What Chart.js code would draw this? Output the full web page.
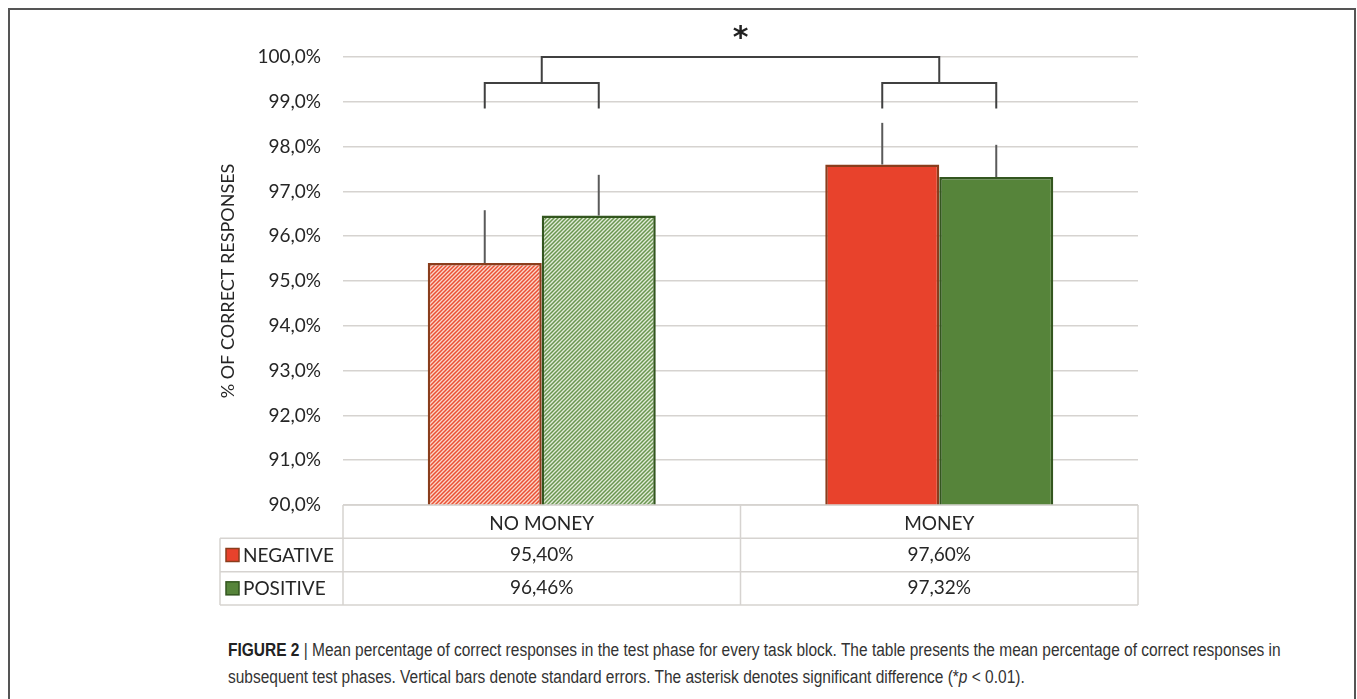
<!DOCTYPE html>
<html>
<head>
<meta charset="utf-8">
<script src="https://cdn.jsdelivr.net/npm/chart.js@4"></script>
<style>
  html, body { margin: 0; padding: 0; background: #fff; }
  body { width: 1357px; height: 699px; position: relative; overflow: hidden; }
  #frame { position: absolute; left: 8px; top: 8px; width: 1348px; height: 720px;
           border: 2px solid #555; border-bottom: none; box-sizing: border-box; }
  #chart { position: absolute; left: 0; top: 0; }
  #caption { position: absolute; left: 228px; top: 637px; color: #333;
             font-family: "Liberation Sans", Arial, sans-serif;
             font-size: 18px; line-height: 27px; white-space: nowrap;
             transform: scaleX(0.86); transform-origin: 0 0; }
  #caption b { color: #222; }
</style>
</head>
<body>
<div id="frame"></div>
<canvas id="chart" width="1357" height="620"></canvas>
<div id="caption"><b>FIGURE 2</b> | Mean percentage of correct responses in the test phase for every task block. The table presents the mean percentage of correct responses in<br>subsequent test phases. Vertical bars denote standard errors. The asterisk denotes significant difference (*<i>p</i> &lt; 0.01).</div>
<script>
const categories = ['NO MONEY', 'MONEY'];
const seriesNames = ['NEGATIVE', 'POSITIVE'];
const negativeValues = [95.40, 97.60];
const positiveValues = [96.46, 97.32];
const negativeErrors = [1.18, 0.93];
const positiveErrors = [0.91, 0.72];
const yMin = 90, yMax = 100, yStep = 1;
// significance bracket levels (in % units) and asterisk
const bracketLow = 98.85, bracketMid = 99.42, bracketTop = 100.0, starLevel = 100.5;

const FONT = 'Lato, "Open Sans", sans-serif';
const TEXT = '#262626';
const LINE = '#d6d3d0';
const LEGEND_LEFT = 220;

function hatch(bg, fg) {
  const c = document.createElement('canvas');
  c.width = c.height = 4;
  const g = c.getContext('2d');
  g.fillStyle = bg;
  g.fillRect(0, 0, 4, 4);
  g.strokeStyle = fg;
  g.lineWidth = 1.5;
  g.beginPath();
  g.moveTo(0, 4); g.lineTo(4, 0);
  g.moveTo(-1, 1); g.lineTo(1, -1);
  g.moveTo(3, 5); g.lineTo(5, 3);
  g.stroke();
  return g.createPattern(c, 'repeat');
}

const redSolid = '#e8422c', greenSolid = '#56843a';
const redHatch = hatch('#fbd6c8', '#ea5034');
const greenHatch = hatch('#e2ebd8', '#6a9650');
const fillColors = [[redHatch, redSolid], [greenHatch, greenSolid]];
const legendColors = [redSolid, greenSolid];
const borderColors = ['#8a3d1c', '#33561f'];
const errors = [negativeErrors, positiveErrors];

const fmt = (v, d) => v.toFixed(d).replace('.', ',') + '%';

const extras = {
  id: 'extras',
  afterDatasetsDraw(chart) {
    const { ctx, chartArea: a, scales: { x, y } } = chart;
    ctx.save();

    // error bars (upper half only)
    ctx.strokeStyle = '#5a5a5a';
    ctx.lineWidth = 2;
    errors.forEach((errs, d) => {
      chart.getDatasetMeta(d).data.forEach((bar, i) => {
        const v = chart.data.datasets[d].data[i];
        ctx.beginPath();
        ctx.moveTo(bar.x, y.getPixelForValue(v));
        ctx.lineTo(bar.x, y.getPixelForValue(v + errs[i]));
        ctx.stroke();
      });
    });

    // significance brackets
    const m0 = chart.getDatasetMeta(0).data, m1 = chart.getDatasetMeta(1).data;
    const yl = y.getPixelForValue(bracketLow), ym = y.getPixelForValue(bracketMid), yt = y.getPixelForValue(bracketTop);
    ctx.strokeStyle = '#404040';
    const mids = [];
    categories.forEach((c, i) => {
      const xa = m0[i].x, xb = m1[i].x;
      ctx.beginPath();
      ctx.moveTo(xa, yl); ctx.lineTo(xa, ym); ctx.lineTo(xb, ym); ctx.lineTo(xb, yl);
      ctx.stroke();
      mids.push((xa + xb) / 2);
    });
    ctx.beginPath();
    ctx.moveTo(mids[0], ym); ctx.lineTo(mids[0], yt); ctx.lineTo(mids[1], yt); ctx.lineTo(mids[1], ym);
    ctx.stroke();
    ctx.fillStyle = '#222';
    ctx.font = 'bold 30px "DejaVu Sans", sans-serif';
    ctx.textAlign = 'center';
    ctx.textBaseline = 'middle';
    ctx.fillText('*', (mids[0] + mids[1]) / 2, y.getPixelForValue(starLevel) + 5);

    // data table below the axis
    const top = x.top, bottom = x.bottom, rowH = (bottom - top) / 3;
    const split = (x.getPixelForValue(0) + x.getPixelForValue(1)) / 2;
    ctx.strokeStyle = LINE;
    ctx.lineWidth = 1.5;
    ctx.beginPath();
    ctx.moveTo(a.left, top); ctx.lineTo(a.right, top);
    for (let r = 1; r <= 3; r++) {
      ctx.moveTo(LEGEND_LEFT, top + rowH * r); ctx.lineTo(a.right, top + rowH * r);
    }
    ctx.moveTo(a.left, top); ctx.lineTo(a.left, bottom);
    ctx.moveTo(a.right, top); ctx.lineTo(a.right, bottom);
    ctx.moveTo(split, top); ctx.lineTo(split, bottom);
    ctx.moveTo(LEGEND_LEFT, top + rowH); ctx.lineTo(LEGEND_LEFT, bottom);
    ctx.stroke();

    ctx.font = '19px ' + FONT;
    ctx.fillStyle = TEXT;
    chart.data.datasets.forEach((ds, d) => {
      const cy = top + rowH * (d + 1.5);
      ds.data.forEach((v, i) => {
        ctx.textAlign = 'center';
        ctx.fillStyle = TEXT;
        ctx.fillText(fmt(v, 2), x.getPixelForValue(i), cy);
      });
      ctx.fillStyle = legendColors[d];
      ctx.fillRect(LEGEND_LEFT + 6, cy - 6.5, 13, 13);
      ctx.strokeStyle = borderColors[d];
      ctx.lineWidth = 1.5;
      ctx.strokeRect(LEGEND_LEFT + 6, cy - 6.5, 13, 13);
      ctx.fillStyle = TEXT;
      ctx.textAlign = 'left';
      ctx.fillText(seriesNames[d], LEGEND_LEFT + 23, cy + 1);
    });
    ctx.restore();
  }
};

new Chart(document.getElementById('chart').getContext('2d'), {
  type: 'bar',
  data: {
    labels: categories,
    datasets: [negativeValues, positiveValues].map((vals, d) => ({
      label: seriesNames[d],
      data: vals,
      backgroundColor: fillColors[d],
      borderColor: borderColors[d],
      borderWidth: 2.5,
      borderSkipped: false,
    }))
  },
  options: {
    responsive: false,
    animation: false,
    categoryPercentage: 0.5736,
    barPercentage: 1,
    layout: { padding: { left: 210, right: 219, top: 57, bottom: 15 } },
    plugins: { legend: { display: false }, tooltip: { enabled: false } },
    scales: {
      x: {
        grid: { display: false },
        border: { display: false },
        afterFit: s => { s.height = 100; },
        ticks: { color: TEXT, padding: -1, font: { family: FONT, size: 19 } }
      },
      y: {
        min: yMin,
        max: yMax,
        afterFit: s => { s.width = 133; },
        grid: { color: LINE, lineWidth: 1.5, drawTicks: false },
        border: { display: false },
        ticks: {
          stepSize: yStep,
          padding: 22,
          color: TEXT,
          font: { family: FONT, size: 19 },
          callback: v => fmt(v, 1)
        },
        title: {
          display: true,
          text: '% OF CORRECT RESPONSES',
          color: TEXT,
          padding: { top: 7, bottom: 0 },
          font: { family: FONT, size: 18 }
        }
      }
    }
  },
  plugins: [extras]
});
</script>
</body>
</html>
